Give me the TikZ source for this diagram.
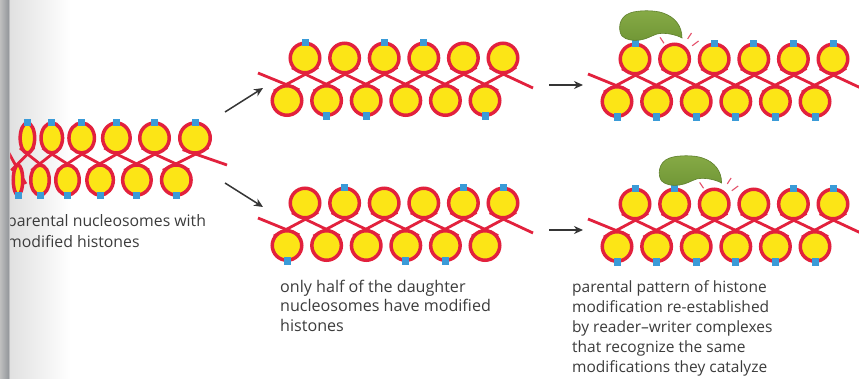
\documentclass[tikz,border=0pt]{standalone}
\usepackage{fontspec}
\setmainfont{Open Sans}
\usetikzlibrary{calc,shapes.geometric,arrows.meta}

\definecolor{dnared}{HTML}{E2213D}
\definecolor{coreyellow}{HTML}{FCE516}
\definecolor{markblue}{HTML}{3A9BD8}
\definecolor{txtgray}{HTML}{3C3C3C}
\definecolor{arrowgray}{HTML}{353535}
\definecolor{rwlight}{HTML}{86AA46}
\definecolor{rwdeep}{HTML}{719736}
\definecolor{rwedge}{HTML}{5E7F2B}
\definecolor{sparkred}{HTML}{E5506A}
\definecolor{bindgray}{HTML}{979A9E}

\pgfdeclarelayer{paper}
\pgfdeclarelayer{linker}
\pgfsetlayers{paper,linker,main}

\tikzset{
  nuc/.style={circle, draw=dnared, fill=coreyellow, line width=3.5pt,
    minimum size=29.5pt, inner sep=0pt, outer sep=0pt},
  nucell/.style 2 args={ellipse, draw=dnared, fill=coreyellow, line width=3.5pt,
    minimum width=#1, minimum height=#2, inner sep=0pt, outer sep=0pt},
  histmark/.style={rectangle, fill=markblue, minimum width=7pt,
    minimum height=7.5pt, inner sep=0pt},
  dna/.style={draw=dnared, line width=2.8pt},
  flow/.style={draw=arrowgray, line width=1.5pt,
    -{Stealth[length=9pt,width=8pt]}},
  caption/.style={text=txtgray, align=left, anchor=north west, inner sep=0pt},
  spark/.style={draw=sparkred, line width=1.1pt},
  rwcomplex/.style={top color=rwlight, bottom color=rwdeep, draw=rwedge,
    line width=0.6pt},
}

\newdimen\dnaAx \newdimen\dnaAy \newdimen\dnaBx \newdimen\dnaBy

% the flat internal tangent between two neighbouring cores; the optional
% argument squeezes the pair horizontally (cores seen foreshortened)
\newcommand\dnapair[3][1]{%
  \pgfextractx{\dnaAx}{\pgfpointanchor{#2}{center}}%
  \pgfextracty{\dnaAy}{\pgfpointanchor{#2}{center}}%
  \pgfextractx{\dnaBx}{\pgfpointanchor{#3}{center}}%
  \pgfextracty{\dnaBy}{\pgfpointanchor{#3}{center}}%
  \pgfmathsetmacro\dnaMx{(\dnaAx+\dnaBx)/2}%
  \pgfmathsetmacro\dnaMy{(\dnaAy+\dnaBy)/2}%
  \pgfmathsetmacro\dnaDx{(\dnaBx-\dnaAx)/(#1)}%
  \pgfmathsetmacro\dnaDy{\dnaBy-\dnaAy}%
  \pgfmathsetmacro\dnaTh{atan2(\dnaDy,\dnaDx)}%
  \pgfmathsetmacro\dnaD{veclen(\dnaDx,\dnaDy)}%
  \pgfmathsetmacro\dnaAl{asin(29/\dnaD)}%
  \pgfmathsetmacro\dnaL{1.4*sqrt((\dnaD/2)^2-14.5^2)}%
  \pgfmathsetmacro\dnaAng{\dnaTh-sign(\dnaTh)*\dnaAl}%
  \pgfmathsetmacro\dnaSx{\dnaMx+(#1)*\dnaL*cos(\dnaAng)}%
  \pgfmathsetmacro\dnaSy{\dnaMy+\dnaL*sin(\dnaAng)}%
  \pgfmathsetmacro\dnaEx{\dnaMx-(#1)*\dnaL*cos(\dnaAng)}%
  \pgfmathsetmacro\dnaEy{\dnaMy-\dnaL*sin(\dnaAng)}%
  \draw[dna] (\dnaSx pt,\dnaSy pt) -- (\dnaEx pt,\dnaEy pt);
}

% linker DNA running from a free end onto a core, tangent to it
\newcommand\dnaarm[3][14.5]{%
  \pgfextractx{\dnaAx}{\pgfpointanchor{#2}{center}}%
  \pgfextracty{\dnaAy}{\pgfpointanchor{#2}{center}}%
  \pgfextractx{\dnaBx}{\pgfpointanchor{#3}{center}}%
  \pgfextracty{\dnaBy}{\pgfpointanchor{#3}{center}}%
  \pgfmathsetmacro\dnaPhi{atan2(\dnaAy-\dnaBy,\dnaAx-\dnaBx)}%
  \pgfmathsetmacro\dnaD{veclen(\dnaAx-\dnaBx,\dnaAy-\dnaBy)}%
  \pgfmathsetmacro\dnaBe{acos((#1)/\dnaD)}%
  \pgfmathsetmacro\dnaPx{\dnaBx+(#1)*cos(\dnaPhi-\dnaBe)}%
  \pgfmathsetmacro\dnaPy{\dnaBy+(#1)*sin(\dnaPhi-\dnaBe)}%
  \pgfmathsetmacro\dnaEx{\dnaAx+1.2*(\dnaPx-\dnaAx)}%
  \pgfmathsetmacro\dnaEy{\dnaAy+1.2*(\dnaPy-\dnaAy)}%
  \draw[dna] (#2) -- (\dnaEx pt,\dnaEy pt);
}

% a chromatin segment: name, x of first upper core, y of upper row,
% cores marked on the upper row, cores marked on the lower row
\newcommand\nucchain[5]{%
  \foreach \i in {1,...,6}{%
    \node[nuc] (#1t\i) at ({#2+39.6*(\i-1)},#3) {};
    \node[nuc] (#1b\i) at ({#2-18+39.6*(\i-1)},{#3+42.5}) {};
  }
  \coordinate (#1al) at ({#2-47},{#3+15});
  \coordinate (#1ar) at ({#2+228},{#3+30});
  \begin{pgfonlayer}{linker}
    \foreach \i in {1,...,6}{\dnapair{#1b\i}{#1t\i}}
    \foreach \i [evaluate=\i as \j using int(\i+1)] in {1,...,5}{\dnapair{#1t\i}{#1b\j}}
    \dnaarm{#1al}{#1b1}
    \dnaarm{#1ar}{#1t6}
  \end{pgfonlayer}
  \foreach \i in {#4}{\node[histmark] (#1mt\i) at ($(#1t\i.center)+(0,-15.5)$) {};}
  \foreach \i in {#5}{\node[histmark] (#1mb\i) at ($(#1b\i.center)+(0,15.5)$) {};}
}

% reader-writer complex sitting on a marked core
\newcommand\readerwriter[1]{%
  \begin{scope}[shift={(#1.center)}]
    \path[rwcomplex] (-13,-23)
      .. controls (-17,-28) and (-17,-42) .. (-5,-46)
      .. controls (3,-49) and (20,-49) .. (28,-46)
      .. controls (40,-42) and (47,-33) .. (47,-21)
      .. controls (42,-24) and (30,-27) .. (22,-25)
      .. controls (16,-23) and (12,-20) .. (5,-19)
      .. controls (-2,-18) and (-9,-19) .. (-13,-23) -- cycle;
  \end{scope}
}

% short strokes showing a core being modified
\newcommand\sparks[1]{%
  \draw[spark] ($(#1.center)+(124:19pt)$) -- ($(#1.center)+(124:26pt)$);
  \draw[spark] ($(#1.center)+(57:24pt)$) -- ($(#1.center)+(57:31pt)$);
  \draw[spark] ($(#1.center)+(37:22pt)$) -- ($(#1.center)+(37:30pt)$);
}

\begin{document}
\begin{tikzpicture}[x=1pt,y=-1pt]
\useasboundingbox (0,0) rectangle (859,378);

\begin{pgfonlayer}{paper}
  \fill[white] (0,0) rectangle (859,378);
  \shade[left color=black!12, right color=white] (9,0) rectangle (70,378);
\end{pgfonlayer}

% parental chromatin, foreshortened towards the binding
\foreach \n/\x/\w in {1/27.4/9,2/51.8/12.5,3/81.7/14.5,4/116.4/15.5,5/154.5/16.5,6/195/17}{
  \node[nucell={2*\w-3.5}{30}] (pt\n) at (\x,138) {};
  \node[histmark] (pmt\n) at ($(pt\n.center)+(0,-15.5)$) {};
}
\foreach \n/\x/\w in {1/18/6.5,2/40/11,3/67.5/13.5,4/100.1/15,5/136.9/16,6/176.3/16.5}{
  \node[nucell={2*\w-3.5}{30}] (pb\n) at (\x,180) {};
  \node[histmark] (pmb\n) at ($(pb\n.center)+(0,15.5)$) {};
}
\coordinate (pal) at (5,146);
\coordinate (par) at (227,165);
\begin{pgfonlayer}{linker}
  \foreach \ua/\ub/\us in {pb1/pt1/0.52, pt1/pb2/0.58, pb2/pt2/0.66, pt2/pb3/0.73,
      pb3/pt3/0.79, pt3/pb4/0.85, pb4/pt4/0.9, pt4/pb5/0.95, pb5/pt5/0.98,
      pt5/pb6/1.0, pb6/pt6/1.04}{\dnapair[\us]{\ua}{\ub}}
  \dnaarm[5]{pal}{pb1}
  \dnaarm[15]{par}{pt6}
\end{pgfonlayer}

% daughter chromatin right after replication
\nucchain{da}{305}{58}{1,3,4}{2,3,6}
\nucchain{db}{305}{203}{2,5,6}{1,4,5}

% daughter chromatin with the pattern restored
\nucchain{ra}{635}{59}{1,3,4,5,6}{1,...,6}
\nucchain{rb}{635}{204}{1,2,5,6}{1,...,6}
\readerwriter{rat1}
\sparks{rat2}
\readerwriter{rbt2}
\sparks{rbt3}

% arrows
\coordinate (a1s) at (225,112); \coordinate (a1e) at (263,88);
\coordinate (a2s) at (225,183); \coordinate (a2e) at (263,207);
\coordinate (a3s) at (549,85);  \coordinate (a3e) at (583,85);
\coordinate (a4s) at (549,230); \coordinate (a4e) at (583,230);
\draw[flow] (a1s) -- (a1e);
\draw[flow] (a2s) -- (a2e);
\draw[flow] (a3s) -- (a3e);
\draw[flow] (a4s) -- (a4e);

% captions
\node[caption, font=\fontsize{15.8}{21}\selectfont] (lcap) at (7,214)
  {parental nucleosomes with\\modified histones};
\node[caption, font=\fontsize{16.1}{19.3}\selectfont] (mcap) at (280,280)
  {only half of the daughter\\nucleosomes have modified\\histones};
\node[caption, font=\fontsize{15.5}{20}\selectfont] (rcap) at (572,280)
  {parental pattern of histone\\modification re-established\\by reader--writer complexes\\that recognize the same\\modifications they catalyze};

% page edge at the binding
\shade[left color=black!25, right color=bindgray] (0,0) rectangle (8,378);
\shade[left color=bindgray, right color=black!12] (8,0) rectangle (10,378);
\end{tikzpicture}
\end{document}
